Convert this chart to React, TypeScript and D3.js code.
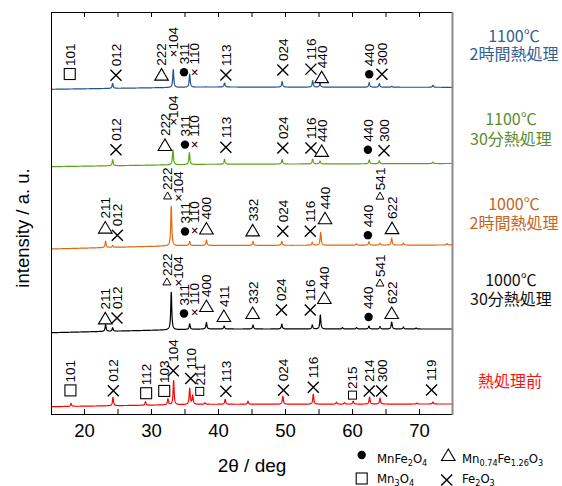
import React from 'react';
import * as d3 from 'd3';

// ---------- data ----------
const X_LABEL_TICKS = [20, 30, 40, 50, 60, 70];
const X_TICKS = [20, 25, 30, 35, 40, 45, 50, 55, 60, 65, 70];

// background level [2θ, intensity]
const BG_RAW = [[15, 7.3], [38, 9.7], [75, 10]];
const BG_1000_30 = [[15, 81.3], [38, 85], [75, 85]];
const BG_1000_2H = [[15, 165], [35, 168.5], [75, 169]];
const BG_1100_30 = [[15, 247.3], [38, 249.7], [75, 250.5]];
const BG_1100_2H = [[15, 324.7], [38, 327], [75, 326.7]];

// peaks [2θ, height]
const PEAKS_RAW = [[18.0, 3], [24.25, 8.5], [29.1, 3.5], [32.45, 6], [33.3, 24], [35.7, 16], [36.15, 9], [38.0, 1.5], [41.0, 5], [44.4, 3], [49.6, 8], [54.15, 10], [57.6, 2], [58.8, 1.5], [60.1, 3], [62.55, 7], [64.1, 6], [69.6, 1], [72.0, 2]];
const PEAKS_1000_30 = [[23.15, 7], [24.2, 3.5], [32.95, 38], [35.7, 5.5], [38.2, 6.5], [40.85, 3], [45.15, 4], [49.45, 5], [54.0, 4], [55.2, 14], [58.5, 1.5], [60.6, 1.5], [62.45, 3], [64.1, 2.5], [65.85, 7], [67.6, 2], [69.5, 1]];
const PEAKS_1000_2H = [[23.15, 6.5], [24.2, 2], [32.95, 40], [35.7, 4], [38.2, 5.5], [45.15, 4], [49.45, 4], [54.0, 3], [55.25, 13], [60.6, 1.5], [62.45, 3.5], [64.1, 2], [65.85, 7], [67.6, 2], [74.1, 1.5]];
const PEAKS_1100_30 = [[24.2, 6], [33.2, 15], [35.65, 12], [40.9, 5], [49.5, 4.5], [54.05, 5], [55.15, 3], [62.5, 3.7], [64.0, 3], [72.0, 1.5]];
const PEAKS_1100_2H = [[24.2, 5], [33.25, 18], [35.7, 13], [40.9, 4], [49.5, 5.5], [54.05, 6.5], [55.15, 4], [62.5, 4.5], [64.0, 3.5], [65.85, 1], [72.0, 2]];

// reflection labels [2θ, marker, hkl, level above baseline]
const LBL_RAW = [[17.9, 's', '101', 16], [24.3, 'x', '012', 15], [29.2, 's', '112', 12], [31.9, 's', '103', 14], [33.25, 'x', '104', 34], [35.85, 'x', '110', 26], [37.2, 'ss', '211', 13], [41.1, 'x', '113', 13], [49.7, 'x', '024', 14], [54.15, 'x', '116', 17], [60.0, 'ss', '215', 9], [62.5, 'x', '214', 13], [64.35, 'x', '300', 13], [71.8, 'x', '119', 14]];
const LBL_1000_30 = [[23.1, 't', '211', 13], [24.85, 'x', '012', 13], [32.3, 'ts', '222', 48], [34.0, '', '×104', 43], [34.85, 'c', '311', 16], [36.3, '', '× 110', 13], [38.2, 't', '400', 23], [40.8, 't', '411', 13], [45.1, 't', '332', 16], [49.4, 'x', '024', 19], [53.7, 'x', '116', 19], [55.8, 't', '440', 31], [62.4, 'c', '440', 12], [64.1, 'ts', '541', 46], [65.85, 't', '622', 16]];
const LBL_1000_2H = [[23.1, 't', '211', 20], [24.9, 'x', '012', 12], [32.4, 'ts', '222', 50], [33.9, '', '×104', 44], [35.0, 'c', '311', 14], [36.3, '', '× 110', 11], [38.2, 't', '400', 17], [45.1, 't', '332', 15], [49.6, 'x', '024', 14], [53.7, 'x', '116', 14], [55.9, 't', '440', 27], [62.3, 'c', '440', 10], [64.1, 'ts', '541', 49], [65.9, 't', '622', 17]];
const LBL_1100_30 = [[24.7, 'x', '012', 16], [32.0, 't', '222', 20], [33.2, '', '×104', 39], [35.0, 'c', '311', 20], [36.3, '', '× 110', 16], [41.1, 'x', '113', 17], [49.6, 'x', '024', 16], [53.8, 'x', '116', 16], [55.4, 't', '440', 13], [62.3, 'c', '440', 14], [64.7, 'x', '300', 13]];
const LBL_1100_2H = [[17.8, 's', '101', 15], [24.7, 'x', '012', 13], [31.5, 't', '222', 13], [33.2, '', '×104', 30], [34.85, 'c', '311', 15], [36.3, '', '× 110', 11], [41.1, 'x', '113', 12], [49.6, 'x', '024', 17], [53.8, 'x', '116', 18], [55.4, 't', '440', 10], [62.5, 'c', '440', 13], [64.4, 'x', '300', 13]];

const NAME_LINE1 = ['熱処理前', '1000℃', '1000℃', '1100℃', '1100℃'];
const NAME_LINE2 = ['', '30分熱処理', '2時間熱処理', '30分熱処理', '2時間熱処理'];

// ---------- styles / layout ----------
const LINE_COLORS = ['#ff0000', '#000000', '#e2680f', '#5ca11c', '#24518f'];
const TEXT_COLORS = ['#ff1010', '#111111', '#c9621c', '#5a8c30', '#345e90'];
const NAME_POS = [[510, 387, 0], [511, 286, 305], [514, 210, 229], [511, 125, 145], [514, 41.5, 60]];
const LABEL_FONT = 'Liberation Sans, Arial, sans-serif';
const CJK_FONT = '"Noto Sans CJK JP", sans-serif';
const LEG_FONT = '"DejaVu Sans Condensed", "Liberation Sans Narrow", sans-serif';

const GAP: Record<string, number> = { x: 9, t: 9, ts: 6, s: 8, ss: 6, c: 8, '': 0 };

function Marker({ type, cx, cy }: { type: string; cx: number; cy: number }) {
  if (type === 'x') {
    const r = 5.5;
    return <path d={`M${cx - r},${cy - r}L${cx + r},${cy + r}M${cx - r},${cy + r}L${cx + r},${cy - r}`} stroke="#000" strokeWidth={1.4} fill="none" />;
  }
  if (type === 't') {
    return <polygon points={`${cx},${cy - 6} ${cx - 6.8},${cy + 5.5} ${cx + 6.8},${cy + 5.5}`} stroke="#000" strokeWidth={1.1} fill="none" />;
  }
  if (type === 'ts') {
    return <polygon points={`${cx},${cy - 4} ${cx - 4},${cy + 3} ${cx + 4},${cy + 3}`} stroke="#000" strokeWidth={1} fill="none" />;
  }
  if (type === 's') {
    return <rect x={cx - 5.5} y={cy - 5.5} width={11} height={11} stroke="#000" strokeWidth={1.1} fill="none" />;
  }
  if (type === 'ss') {
    return <rect x={cx - 4} y={cy - 4} width={8} height={8} stroke="#000" strokeWidth={1} fill="none" />;
  }
  if (type === 'c') {
    return <circle cx={cx} cy={cy} r={4.2} fill="#000" />;
  }
  return null;
}

export default function App() {
  const W = 562, H = 486;
  const x = d3.scaleLinear().domain([15, 75]).range([51, 453]);
  const y = d3.scaleLinear().domain([0, 402]).range([414, 12]);
  const grid = d3.range(15, 75.0001, 0.02);
  const hw = 0.09;

  const BGS = [BG_RAW, BG_1000_30, BG_1000_2H, BG_1100_30, BG_1100_2H];
  const PEAKS = [PEAKS_RAW, PEAKS_1000_30, PEAKS_1000_2H, PEAKS_1100_30, PEAKS_1100_2H];
  const LBLS = [LBL_RAW, LBL_1000_30, LBL_1000_2H, LBL_1100_30, LBL_1100_2H];

  const line = d3.line<number[]>().x(d => x(d[0])).y(d => y(d[1]));

  const series = BGS.map((bg, i) => {
    const bgScale = d3.scaleLinear().domain(bg.map(p => p[0])).range(bg.map(p => p[1]));
    const pts = grid.map(t => {
      let v = bgScale(t);
      for (const [p, h] of PEAKS[i]) {
        const u = (t - p) / hw;
        v += h / (1 + u * u);
      }
      return [t, v];
    });
    return { bgScale, pts, labels: LBLS[i] };
  });

  return (
    <svg width={W} height={H} style={{ position: 'absolute', left: 0, top: 0, background: '#fff' }}>
      <rect width={W} height={H} fill="#fff" />
      {series.map((s, i) => (
        <path key={i} d={line(s.pts as any) || ''} fill="none" stroke={LINE_COLORS[i]} strokeWidth={1.2} strokeLinejoin="round" />
      ))}
      {/* frame */}
      <line x1={51.5} x2={51.5} y1={12} y2={414.5} stroke="#000" strokeWidth={1} />
      <line x1={51} x2={453} y1={12.5} y2={12.5} stroke="#000" strokeWidth={1} />
      <line x1={51} x2={453} y1={414.5} y2={414.5} stroke="#000" strokeWidth={1} />
      <line x1={452.5} x2={452.5} y1={12} y2={415} stroke="#8a8a8a" strokeWidth={2} />
      {X_TICKS.map(t => (
        <g key={t}>
          <line x1={x(t)} x2={x(t)} y1={414} y2={409} stroke="#000" strokeWidth={1} />
          <line x1={x(t)} x2={x(t)} y1={12} y2={17} stroke="#000" strokeWidth={1} />
        </g>
      ))}
      {X_LABEL_TICKS.map(t => (
        <text key={t} x={x(t)} y={437} textAnchor="middle" fontFamily={LABEL_FONT} fontSize={18.5} fill="#000">{t}</text>
      ))}
      <text x={252} y={472} textAnchor="middle" fontFamily={LABEL_FONT} fontSize={19} fill="#000">2θ / deg</text>
      <text transform={`translate(29,228) rotate(-90)`} textAnchor="middle" fontFamily={LABEL_FONT} fontSize={18.5} fill="#000">intensity / a. u.</text>

      {/* reflection labels */}
      {series.map((s, i) => s.labels.map((l: any, j: number) => {
        const [t, m, txt, lev] = l;
        const cx = x(t);
        const cy = y(s.bgScale(t) + lev);
        const ty = cy - GAP[m];
        return (
          <g key={`${i}-${j}`}>
            <Marker type={m} cx={cx} cy={cy} />
            <text transform={`translate(${cx},${ty}) rotate(-90)`} dy="0.36em" textAnchor="start" fontFamily={LABEL_FONT} fontSize={13.5} fill="#000">{txt}</text>
          </g>
        );
      }))}

      {/* series names */}
      {NAME_POS.map((p, i) => (
        <g key={i} fontFamily={CJK_FONT} fontSize={16} fill={TEXT_COLORS[i]} textAnchor="middle">
          <text x={p[0]} y={p[1]}>{NAME_LINE1[i]}</text>
          {NAME_LINE2[i] && <text x={p[0]} y={p[2]}>{NAME_LINE2[i]}</text>}
        </g>
      ))}

      {/* legend */}
      <g fontFamily={LEG_FONT} fontSize={13} fill="#000">
        <Marker type="c" cx={361.7} cy={455} />
        <text x={377} y={463}>MnFe<tspan fontSize={9} dy={3}>2</tspan><tspan dy={-3}>O</tspan><tspan fontSize={9} dy={3}>4</tspan></text>
        <Marker type="t" cx={448.3} cy={455} />
        <text x={462} y={463}>Mn<tspan fontSize={9} dy={3}>0.74</tspan><tspan dy={-3}>Fe</tspan><tspan fontSize={9} dy={3}>1.26</tspan><tspan dy={-3}>O</tspan><tspan fontSize={9} dy={3}>3</tspan></text>
        <Marker type="s" cx={361.7} cy={478.5} />
        <text x={377} y={483}>Mn<tspan fontSize={9} dy={3}>3</tspan><tspan dy={-3}>O</tspan><tspan fontSize={9} dy={3}>4</tspan></text>
        <Marker type="x" cx={446.7} cy={480} />
        <text x={462} y={483}>Fe<tspan fontSize={9} dy={3}>2</tspan><tspan dy={-3}>O</tspan><tspan fontSize={9} dy={3}>3</tspan></text>
      </g>
    </svg>
  );
}
